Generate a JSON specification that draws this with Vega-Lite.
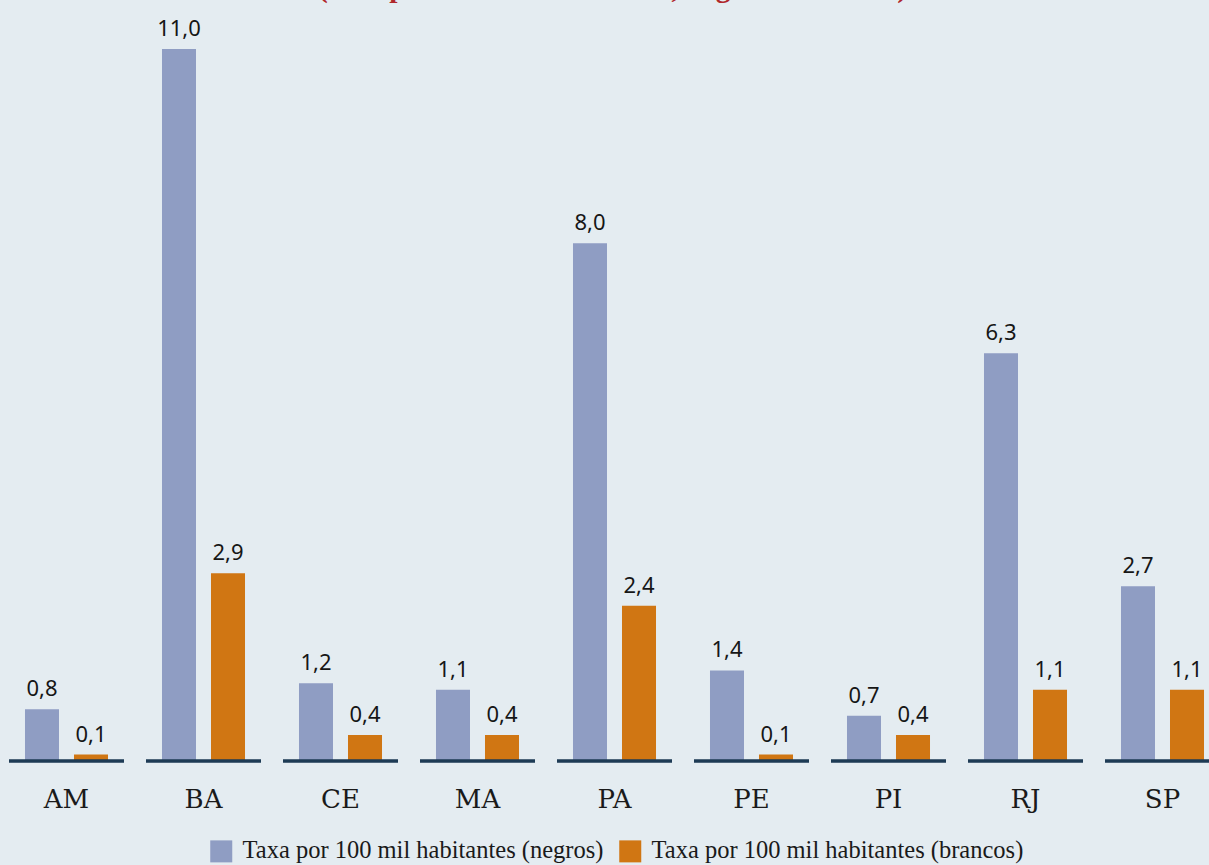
{
  "$schema": "https://vega.github.io/schema/vega-lite/v6.json",
  "width": 1209,
  "height": 712,
  "autosize": {"type": "none"},
  "padding": {"top": 49, "left": 0, "right": 0, "bottom": 104},
  "background": "#e4ecf1",
  "title": {
    "text": "(taxa por 100 mil habitantes, negros e brancos)",
    "font": "Liberation Serif",
    "fontSize": 29.5,
    "fontWeight": "bold",
    "color": "#b0282b",
    "anchor": "middle",
    "frame": "group",
    "baseline": "alphabetic",
    "offset": -8,
    "dx": 8
  },
  "data": {
    "values": [
      {"uf": "AM", "grupo": "Taxa por 100 mil habitantes (negros)", "valor": 0.8},
      {"uf": "AM", "grupo": "Taxa por 100 mil habitantes (brancos)", "valor": 0.1},
      {"uf": "BA", "grupo": "Taxa por 100 mil habitantes (negros)", "valor": 11.0},
      {"uf": "BA", "grupo": "Taxa por 100 mil habitantes (brancos)", "valor": 2.9},
      {"uf": "CE", "grupo": "Taxa por 100 mil habitantes (negros)", "valor": 1.2},
      {"uf": "CE", "grupo": "Taxa por 100 mil habitantes (brancos)", "valor": 0.4},
      {"uf": "MA", "grupo": "Taxa por 100 mil habitantes (negros)", "valor": 1.1},
      {"uf": "MA", "grupo": "Taxa por 100 mil habitantes (brancos)", "valor": 0.4},
      {"uf": "PA", "grupo": "Taxa por 100 mil habitantes (negros)", "valor": 8.0},
      {"uf": "PA", "grupo": "Taxa por 100 mil habitantes (brancos)", "valor": 2.4},
      {"uf": "PE", "grupo": "Taxa por 100 mil habitantes (negros)", "valor": 1.4},
      {"uf": "PE", "grupo": "Taxa por 100 mil habitantes (brancos)", "valor": 0.1},
      {"uf": "PI", "grupo": "Taxa por 100 mil habitantes (negros)", "valor": 0.7},
      {"uf": "PI", "grupo": "Taxa por 100 mil habitantes (brancos)", "valor": 0.4},
      {"uf": "RJ", "grupo": "Taxa por 100 mil habitantes (negros)", "valor": 6.3},
      {"uf": "RJ", "grupo": "Taxa por 100 mil habitantes (brancos)", "valor": 1.1},
      {"uf": "SP", "grupo": "Taxa por 100 mil habitantes (negros)", "valor": 2.7},
      {"uf": "SP", "grupo": "Taxa por 100 mil habitantes (brancos)", "valor": 1.1}
    ]
  },
  "encoding": {
    "x": {
      "field": "uf",
      "type": "nominal",
      "sort": null,
      "scale": {"range": [-2, 1231], "paddingInner": 0.394, "paddingOuter": 0.197},
      "axis": {
        "title": null,
        "labelAngle": 0,
        "domain": false,
        "ticks": false,
        "labelPadding": 25,
        "labelFont": "DejaVu Serif",
        "labelFontSize": 26,
        "labelColor": "#1a1a1a"
      }
    },
    "y": {
      "field": "valor",
      "type": "quantitative",
      "scale": {"domain": [0, 11], "nice": false},
      "axis": null
    }
  },
  "layer": [
    {
      "mark": {"type": "bar"},
      "encoding": {
        "xOffset": {
          "field": "grupo",
          "type": "nominal",
          "sort": ["Taxa por 100 mil habitantes (negros)", "Taxa por 100 mil habitantes (brancos)"],
          "scale": {"paddingInner": 0.306, "paddingOuter": 0}
        },
        "color": {
          "field": "grupo",
          "type": "nominal",
          "scale": {
            "domain": ["Taxa por 100 mil habitantes (negros)", "Taxa por 100 mil habitantes (brancos)"],
            "range": ["#8f9dc3", "#d07613"]
          },
          "legend": {
            "title": null,
            "orient": "none",
            "direction": "horizontal",
            "legendX": 209,
            "legendY": 790,
            "symbolType": "square",
            "symbolSize": 484,
            "symbolStrokeWidth": 0,
            "symbolOpacity": 1,
            "labelFont": "Liberation Serif",
            "labelFontSize": 24.5,
            "labelColor": "#1a1a1a",
            "labelOffset": 9,
            "columnPadding": 14,
            "labelLimit": 500
          }
        }
      }
    },
    {
      "mark": {"type": "text", "baseline": "alphabetic", "dy": -13, "font": "Noto Sans", "fontSize": 22, "color": "#161616"},
      "encoding": {
        "xOffset": {
          "field": "grupo",
          "type": "nominal",
          "sort": ["Taxa por 100 mil habitantes (negros)", "Taxa por 100 mil habitantes (brancos)"],
          "scale": {"paddingInner": 0.306, "paddingOuter": 0}
        },
        "text": {"field": "valor", "type": "quantitative", "format": ".1f"}
      }
    },
    {
      "mark": {"type": "tick", "orient": "horizontal", "size": 115, "thickness": 3, "color": "#1d3b55", "opacity": 1},
      "encoding": {
        "y": {"datum": 0, "type": "quantitative"}
      }
    }
  ],
  "config": {
    "view": {"stroke": null},
    "locale": {"number": {"decimal": ",", "thousands": ".", "grouping": [3], "currency": ["R$", ""]}}
  }
}
